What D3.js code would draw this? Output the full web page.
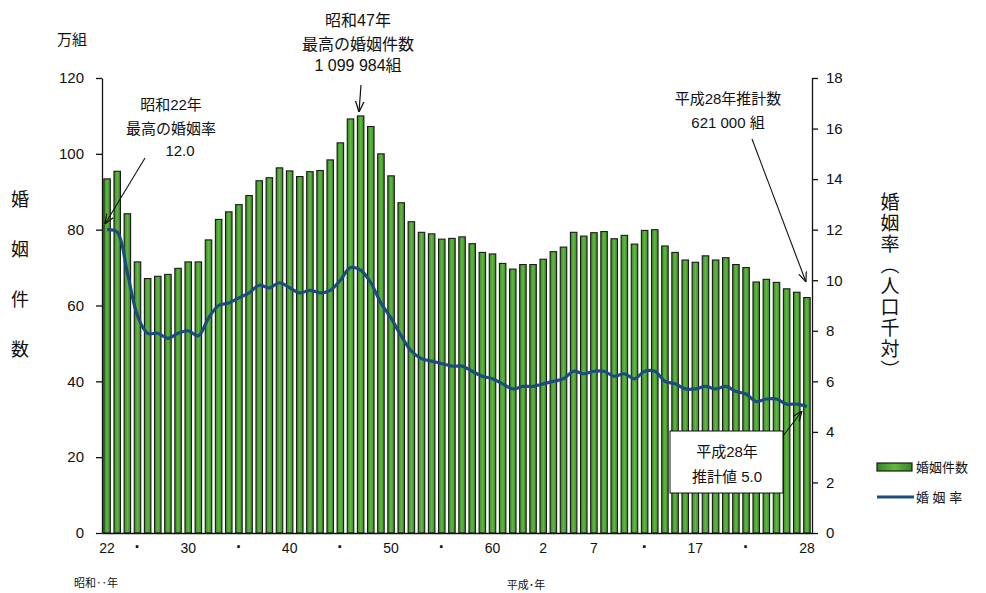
<!DOCTYPE html>
<html>
<head>
<meta charset="utf-8">
<script src="https://cdn.jsdelivr.net/npm/d3@7"></script>
<style>
  body { margin: 0; background: #fff; }
  text { font-family: "Liberation Sans", "Noto Sans CJK JP", sans-serif; fill: #111; }
</style>
</head>
<body>
<svg id="chart" width="986" height="593"></svg>
<script>
// categories: calendar years 1947 (S22) .. 2016 (H28)
var years = [1947,1948,1949,1950,1951,1952,1953,1954,1955,1956,1957,1958,1959,1960,
  1961,1962,1963,1964,1965,1966,1967,1968,1969,1970,1971,1972,1973,1974,1975,1976,
  1977,1978,1979,1980,1981,1982,1983,1984,1985,1986,1987,1988,1989,1990,1991,1992,
  1993,1994,1995,1996,1997,1998,1999,2000,2001,2002,2003,2004,2005,2006,2007,2008,
  2009,2010,2011,2012,2013,2014,2015,2016];

// marriages (万組)
var marriages = [93.4,95.4,84.2,71.5,67.1,67.7,68.2,69.8,71.5,71.5,77.3,82.7,84.7,86.6,
  89.0,92.9,93.7,96.3,95.5,94.0,95.3,95.6,98.4,102.9,109.2,110.0,107.2,100.0,94.2,87.1,
  82.1,79.3,78.9,77.5,77.7,78.1,76.3,74.0,73.6,71.1,69.6,70.8,70.8,72.2,74.2,75.4,
  79.3,78.3,79.2,79.5,77.6,78.5,76.2,79.8,80.0,75.7,74.0,72.0,71.4,73.1,72.0,72.6,
  70.8,70.0,66.2,66.9,66.1,64.4,63.5,62.1];

// marriage rate (per 1000 population)
var rates = [12.0,11.9,10.3,8.6,7.9,7.9,7.7,7.9,8.0,7.8,8.5,9.0,9.1,9.3,
  9.5,9.8,9.7,9.9,9.7,9.5,9.6,9.5,9.6,10.0,10.5,10.4,9.9,9.1,8.5,7.8,
  7.2,6.9,6.8,6.7,6.6,6.6,6.4,6.2,6.1,5.9,5.7,5.8,5.8,5.9,6.0,6.1,
  6.4,6.3,6.4,6.4,6.2,6.3,6.1,6.4,6.4,6.0,5.9,5.7,5.7,5.8,5.7,5.8,
  5.6,5.5,5.2,5.3,5.3,5.1,5.1,5.0];

var tickYears  = [1947,1950,1955,1960,1965,1970,1975,1980,1985,1990,1995,2000,2005,2010,2016];
var tickLabels = ["22","·","30","·","40","·","50","·","60","2","7","·","17","·","28"];

var leftTicks = [0,20,40,60,80,100,120];
var rightTicks = [0,2,4,6,8,10,12,14,16,18];

var svg = d3.select("#chart");
var margin = {top: 78, right: 174, bottom: 60, left: 102};
var width = 986 - margin.left - margin.right,
    height = 593 - margin.top - margin.bottom;

var g = svg.append("g").attr("transform", "translate(" + margin.left + "," + margin.top + ")");

var x = d3.scaleBand().domain(years).range([0, width]).paddingInner(0.36).paddingOuter(0.18);
var y = d3.scaleLinear().domain([0, 120]).range([height, 0]);
var y2 = d3.scaleLinear().domain([0, 18]).range([height, 0]);

var defs = svg.append("defs");
var grad = defs.append("linearGradient").attr("id", "barGrad").attr("x1", "0").attr("x2", "1");
grad.append("stop").attr("offset", "0%").attr("stop-color", "#358524");
grad.append("stop").attr("offset", "50%").attr("stop-color", "#62ba40");
grad.append("stop").attr("offset", "100%").attr("stop-color", "#358524");

defs.append("marker").attr("id", "arrow")
  .attr("viewBox", "0 0 10 10").attr("refX", 10).attr("refY", 5)
  .attr("markerWidth", 9).attr("markerHeight", 9).attr("orient", "auto")
  .append("path").attr("d", "M0,1 L10,5 L0,9").attr("fill", "none").attr("stroke", "#111").attr("stroke-width", 1.2);

// bars
g.selectAll(".bar")
  .data(years)
  .enter().append("rect")
    .attr("class", "bar")
    .attr("x", function(d) { return x(d); })
    .attr("y", function(d, i) { return y(marriages[i]); })
    .attr("width", x.bandwidth())
    .attr("height", function(d, i) { return height - y(marriages[i]); })
    .attr("fill", "url(#barGrad)")
    .attr("stroke", "#1a1a1a")
    .attr("stroke-width", 1.1);

// rate line
var line = d3.line()
  .x(function(d, i) { return x(years[i]) + x.bandwidth() / 2; })
  .y(function(d) { return y2(d); })
  .curve(d3.curveCatmullRom);

g.append("path")
  .datum(rates)
  .attr("d", line)
  .attr("fill", "none")
  .attr("stroke", "#1a4d7e")
  .attr("stroke-width", 3.2);

// axes
var axL = g.append("g")
  .call(d3.axisLeft(y).tickValues(leftTicks).tickSize(6).tickSizeOuter(0).tickPadding(12));
var axR = g.append("g").attr("transform", "translate(" + width + ",0)")
  .call(d3.axisRight(y2).tickValues(rightTicks).tickSize(6).tickSizeOuter(0).tickPadding(8));
var axB = g.append("g").attr("transform", "translate(0," + height + ")")
  .call(d3.axisBottom(x).tickValues(tickYears).tickSize(0).tickPadding(10)
    .tickFormat(function(d) { return tickLabels[tickYears.indexOf(d)]; }));

[axL, axR, axB].forEach(function(a) {
  a.selectAll("path, line").attr("stroke", "#111").attr("stroke-width", 1.3);
  a.selectAll("text").style("font-size", "15px").attr("fill", "#111");
});
axB.selectAll("text").style("font-size", "14px");
axB.selectAll("text").filter(function(d, i) { return tickLabels[i] === "·"; })
  .style("font-size", "18px").style("font-weight", "bold").attr("dy", "0.55em");

// axis titles
svg.append("text").attr("x", 72).attr("y", 45).attr("text-anchor", "middle")
  .style("font-size", "15px").text("万組");

var leftTitle = ["婚", "姻", "件", "数"];
svg.selectAll(".ltitle").data(leftTitle).enter().append("text")
  .attr("x", 20).attr("y", function(d, i) { return 206 + i * 50; })
  .attr("text-anchor", "middle").style("font-size", "18px").text(function(d) { return d; });

svg.append("text")
  .attr("x", 888).attr("y", 192)
  .style("writing-mode", "vertical-rl")
  .style("font-size", "19px")
  .style("letter-spacing", "2px")
  .text("婚姻率（人口千対）");

svg.append("text").attr("x", 96).attr("y", 587).style("font-size", "11px").attr("text-anchor", "middle").text("昭和‥年");
svg.append("text").attr("x", 526).attr("y", 589).style("font-size", "11px").attr("text-anchor", "middle").text("平成･年");

// annotations
function multi(xc, ys, lines, size) {
  lines.forEach(function(t, i) {
    svg.append("text").attr("x", xc).attr("y", ys[i]).attr("text-anchor", "middle")
      .style("font-size", size + "px").text(t);
  });
}
multi(358, [26, 50, 71], ["昭和47年", "最高の婚姻件数", "1 099 984組"], 16);
svg.append("line").attr("x1", 361).attr("y1", 85).attr("x2", 359).attr("y2", 112)
  .attr("stroke", "#111").attr("stroke-width", 1.2).attr("marker-end", "url(#arrow)");

multi(171, [110, 134, 156], ["昭和22年", "最高の婚姻率", "12.0"], 15);
d3.select(svg.selectAll("text").nodes().pop()).attr("x", 180);
svg.append("line").attr("x1", 145).attr("y1", 158).attr("x2", 105).attr("y2", 224)
  .attr("stroke", "#111").attr("stroke-width", 1.1).attr("marker-end", "url(#arrow)");

multi(728, [104, 128], ["平成28年推計数", "621 000 組"], 15);
svg.append("line").attr("x1", 752).attr("y1", 139).attr("x2", 806).attr("y2", 282)
  .attr("stroke", "#111").attr("stroke-width", 1.1).attr("marker-end", "url(#arrow)");

svg.append("rect").attr("x", 670).attr("y", 431).attr("width", 113).attr("height", 62)
  .attr("fill", "#fff").attr("stroke", "#111").attr("stroke-width", 1);
multi(727, [457, 482], ["平成28年", "推計値 5.0"], 15);
svg.append("line").attr("x1", 783).attr("y1", 436).attr("x2", 802).attr("y2", 411)
  .attr("stroke", "#111").attr("stroke-width", 1.1).attr("marker-end", "url(#arrow)");

// legend
svg.append("rect").attr("x", 877).attr("y", 463).attr("width", 35).attr("height", 8)
  .attr("fill", "url(#barGrad)").attr("stroke", "#1a1a1a").attr("stroke-width", 1.2);
svg.append("text").attr("x", 916).attr("y", 472).style("font-size", "13px").text("婚姻件数");
svg.append("line").attr("x1", 877).attr("x2", 914).attr("y1", 497).attr("y2", 497)
  .attr("stroke", "#1a4d7e").attr("stroke-width", 3);
svg.append("text").attr("x", 916).attr("y", 502).style("font-size", "13px").text("婚 姻 率");
</script>
</body>
</html>
